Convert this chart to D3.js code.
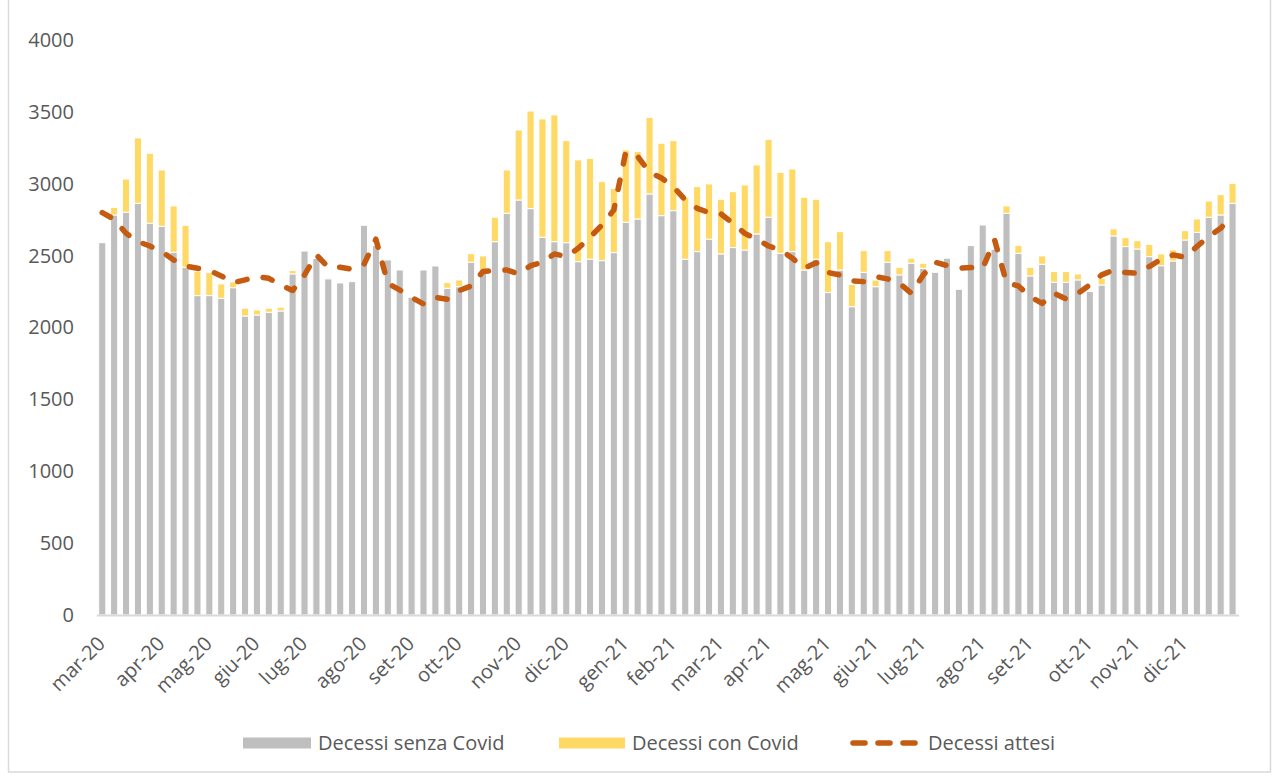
<!DOCTYPE html>
<html>
<head>
<meta charset="utf-8">
<script src="https://cdn.jsdelivr.net/npm/d3@7"></script>
<style>
  body { margin: 0; background: #ffffff; }
  svg { display: block; }
  text { font-family: "Open Sans", "Liberation Sans", sans-serif; fill: #595959; }
</style>
</head>
<body>
<svg id="chart" width="1277" height="776"></svg>
<script>
// ---- DATA (weekly, mar-2020 .. dic-2021) ----
const weeks = d3.range(96); // week positions (categories)

const decessiSenzaCovid = [
  2590, 2783, 2802, 2864, 2725, 2704, 2523, 2419, 2222, 2222,
  2203, 2277, 2080, 2087, 2106, 2115, 2373, 2532, 2480, 2338,
  2310, 2319, 2711, 2570, 2470, 2400, 2210, 2400, 2428, 2273,
  2284, 2454, 2389, 2597, 2795, 2887, 2827, 2628, 2597, 2590,
  2458, 2475, 2465, 2521, 2732, 2755, 2929, 2778, 2813, 2475,
  2528, 2614, 2512, 2556, 2539, 2651, 2767, 2516, 2528, 2400,
  2475, 2243, 2400, 2145, 2384, 2284, 2454, 2366, 2447, 2412,
  2384, 2482, 2266, 2570, 2713, 2544, 2795, 2516, 2359, 2440,
  2315, 2315, 2331, 2250, 2296, 2637, 2563, 2546, 2493, 2430,
  2463, 2609, 2662, 2767, 2783, 2864
];

const decessiConCovid = [
    0,   53,  231,  455,  487,  392,  323,  292,  170,  160,
  100,   40,   54,   35,   28,   26,   23,    0,    0,    0,
    0,    0,    0,    0,    0,    0,    0,    0,    0,   39,
   47,   60,  109,  170,  301,  487,  679,  823,  882,  710,
  708,  702,  550,  447,  503,  469,  533,  504,  487,  431,
  452,  385,  380,  389,  453,  480,  542,  564,  575,  506,
  417,  354,  267,  155,  151,   46,   81,   53,   35,   35,
    0,    0,    0,    0,    0,    0,   51,   54,   60,   58,
   74,   74,   41,    0,   46,   49,   62,   58,   86,   82,
   77,   65,   93,  113,  141,  139
];

const decessiAttesi = [
  2799, 2753, 2655, 2597, 2567, 2528, 2470, 2428, 2412, 2396,
  2359, 2312, 2331, 2354, 2342, 2296, 2257, 2366, 2505, 2419,
  2419, 2405, 2440, 2614, 2308, 2261, 2210, 2164, 2210, 2196,
  2257, 2289, 2389, 2396, 2400, 2372, 2430, 2454, 2512, 2493,
  2551, 2628, 2713, 2818, 3220, 3190, 3080, 3040, 2980, 2887,
  2829, 2799, 2790, 2725, 2655, 2614, 2567, 2540, 2482, 2412,
  2451, 2382, 2366, 2325, 2319, 2354, 2338, 2308, 2238, 2366,
  2454, 2431, 2412, 2417, 2412, 2609, 2312, 2289, 2215, 2168,
  2238, 2199, 2238, 2296, 2366, 2400, 2382, 2377, 2424, 2475,
  2505, 2489, 2563, 2632, 2690, 2783
];

const monthLabels = ["mar-20","apr-20","mag-20","giu-20","lug-20","ago-20","set-20","ott-20","nov-20","dic-20",
                     "gen-21","feb-21","mar-21","apr-21","mag-21","giu-21","lug-21","ago-21","set-21","ott-21","nov-21","dic-21"];
const monthWeekIndex = [0,5,9,13,17,22,26,30,35,39,44,48,52,56,61,65,69,74,78,83,87,91];

const yTicks = [0,500,1000,1500,2000,2500,3000,3500,4000];

const seriesNames = ["Decessi senza Covid", "Decessi con Covid", "Decessi attesi"];

// ---- STYLE ----
const colGray = "#bfbfbf", colYellow = "#ffd966", colLine = "#c55a11", colText = "#595959", colAxis = "#d9d9d9";

const svg = d3.select("#chart");

// outer frame
svg.append("rect")
  .attr("x", 8.5).attr("y", -2).attr("width", 1262).attr("height", 774)
  .attr("fill", "none").attr("stroke", colAxis).attr("stroke-width", 1.5);

const x = d3.scaleBand().domain(weeks).range([96.3, 1238.5]).paddingInner(0.4).paddingOuter(0.2);
const y = d3.scaleLinear().domain([0, 4000]).range([615, 40]);
const bw = x.bandwidth();

// stacked bars
const table = weeks.map(i => ({ i, senza: decessiSenzaCovid[i], con: decessiConCovid[i] }));
const stack = d3.stack().keys(["senza", "con"])(table);
const colors = [colGray, colYellow];

svg.append("g").selectAll("g")
  .data(stack).join("g")
  .attr("fill", (d, k) => colors[k])
  .selectAll("rect")
  .data(d => d.filter(s => s[1] - s[0] > 0))
  .join("rect")
  .attr("x", d => x(d.data.i))
  .attr("width", bw)
  .attr("y", d => y(d[1]))
  .attr("height", d => y(d[0]) - y(d[1]))
  .attr("stroke", "#ffffff")
  .attr("stroke-width", 1);

// y axis
const yAxis = svg.append("g")
  .attr("transform", "translate(74,0)")
  .call(d3.axisLeft(y).tickValues(yTicks).tickFormat(d3.format("d")).tickSize(0).tickPadding(0));
yAxis.select(".domain").remove();
yAxis.selectAll("text").attr("font-size", 20).attr("fill", colText)
  .style("font-family", "'Open Sans', sans-serif");

// x axis
const xAxis = svg.append("g")
  .attr("transform", "translate(0,615)")
  .call(d3.axisBottom(x).tickValues(monthWeekIndex)
    .tickFormat(i => monthLabels[monthWeekIndex.indexOf(i)])
    .tickSize(0).tickSizeOuter(0));
xAxis.select(".domain").attr("stroke", colAxis).attr("stroke-width", 2);
xAxis.selectAll("text")
  .attr("x", 0).attr("y", 0).attr("dy", 0)
  .attr("text-anchor", "end")
  .attr("transform", "translate(4,30) rotate(-45)")
  .attr("font-size", 20).attr("fill", colText)
  .style("font-family", "'Open Sans', sans-serif");

// expected line
const line = d3.line()
  .x((v, i) => x(weeks[i]) + bw / 2)
  .y(v => y(v));
svg.append("path")
  .datum(decessiAttesi)
  .attr("d", line)
  .attr("fill", "none")
  .attr("stroke", colLine)
  .attr("stroke-width", 5.5)
  .attr("stroke-linecap", "round")
  .attr("stroke-linejoin", "round")
  .attr("stroke-dasharray", "9.5,16.5");

// legend
const lg = svg.append("g");
const ly = 743;
lg.append("rect").attr("x", 243).attr("y", ly - 5.5).attr("width", 68).attr("height", 11).attr("fill", colGray);
lg.append("text").attr("x", 318).attr("y", ly).attr("dy", "0.35em").attr("font-size", 20).text(seriesNames[0]);
lg.append("rect").attr("x", 559).attr("y", ly - 5.5).attr("width", 66).attr("height", 11).attr("fill", colYellow);
lg.append("text").attr("x", 632).attr("y", ly).attr("dy", "0.35em").attr("font-size", 20).text(seriesNames[1]);
lg.append("line").attr("x1", 853).attr("x2", 918).attr("y1", ly).attr("y2", ly)
  .attr("stroke", colLine).attr("stroke-width", 5.5).attr("stroke-linecap", "round")
  .attr("stroke-dasharray", "12,13");
lg.append("text").attr("x", 928).attr("y", ly).attr("dy", "0.35em").attr("font-size", 20).text(seriesNames[2]);
</script>
</body>
</html>
